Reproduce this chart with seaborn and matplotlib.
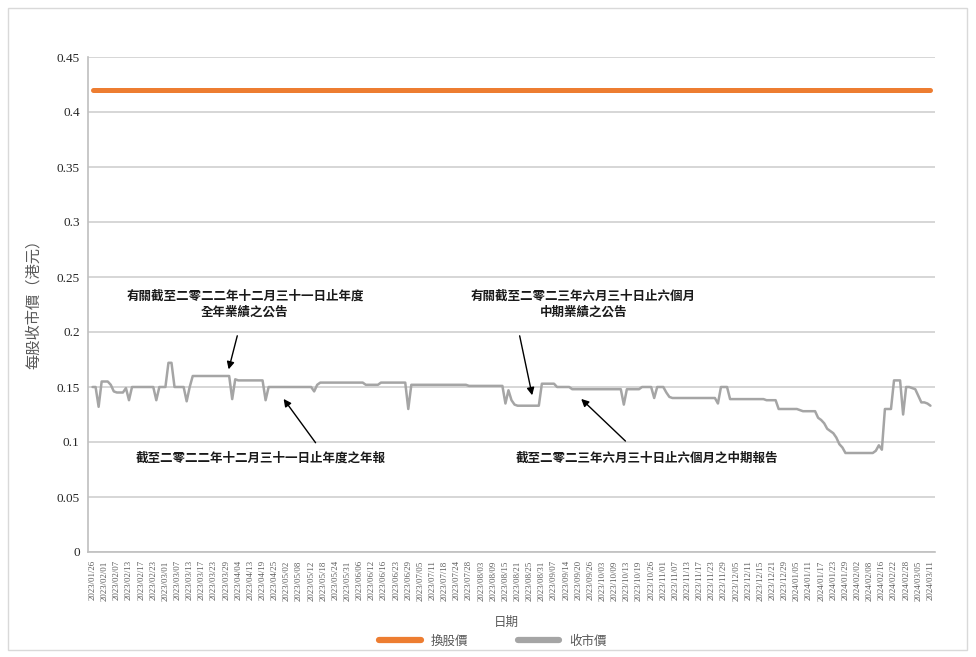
import seaborn as sns
import pandas as pd
import matplotlib.pyplot as plt
from matplotlib.patches import Rectangle
from matplotlib.lines import Line2D

# every 4th trading day is labelled on the category axis
tick_dates = [
    '2023/01/26', '2023/02/01', '2023/02/07', '2023/02/13', '2023/02/17', '2023/02/23',
    '2023/03/01', '2023/03/07', '2023/03/13', '2023/03/17', '2023/03/23', '2023/03/29',
    '2023/04/04', '2023/04/13', '2023/04/19', '2023/04/25', '2023/05/02', '2023/05/08',
    '2023/05/12', '2023/05/18', '2023/05/24', '2023/05/31', '2023/06/06', '2023/06/12',
    '2023/06/16', '2023/06/23', '2023/06/29', '2023/07/05', '2023/07/11', '2023/07/18',
    '2023/07/24', '2023/07/28', '2023/08/03', '2023/08/09', '2023/08/15', '2023/08/21',
    '2023/08/25', '2023/08/31', '2023/09/07', '2023/09/14', '2023/09/20', '2023/09/26',
    '2023/10/03', '2023/10/09', '2023/10/13', '2023/10/19', '2023/10/26', '2023/11/01',
    '2023/11/07', '2023/11/13', '2023/11/17', '2023/11/23', '2023/11/29', '2023/12/05',
    '2023/12/11', '2023/12/15', '2023/12/21', '2023/12/29', '2024/01/05', '2024/01/11',
    '2024/01/17', '2024/01/23', '2024/01/29', '2024/02/02', '2024/02/08', '2024/02/16',
    '2024/02/22', '2024/02/28', '2024/03/05', '2024/03/11',
]

# daily closing price (HK$), one value per trading day
close_price = [
    0.15, 0.15, 0.132, 0.155, 0.155, 0.155, 0.152, 0.146, 0.145, 0.145,
    0.145, 0.149, 0.138, 0.15, 0.15, 0.15, 0.15, 0.15, 0.15, 0.15,
    0.15, 0.138, 0.15, 0.15, 0.15, 0.172, 0.172, 0.15, 0.15, 0.15,
    0.15, 0.137, 0.15, 0.16, 0.16, 0.16, 0.16, 0.16, 0.16, 0.16,
    0.16, 0.16, 0.16, 0.16, 0.16, 0.16, 0.139, 0.157, 0.156, 0.156,
    0.156, 0.156, 0.156, 0.156, 0.156, 0.156, 0.156, 0.138, 0.15, 0.15,
    0.15, 0.15, 0.15, 0.15, 0.15, 0.15, 0.15, 0.15, 0.15, 0.15,
    0.15, 0.15, 0.15, 0.146, 0.152, 0.154, 0.154, 0.154, 0.154, 0.154,
    0.154, 0.154, 0.154, 0.154, 0.154, 0.154, 0.154, 0.154, 0.154, 0.154,
    0.152, 0.152, 0.152, 0.152, 0.152, 0.154, 0.154, 0.154, 0.154, 0.154,
    0.154, 0.154, 0.154, 0.154, 0.130, 0.152, 0.152, 0.152, 0.152, 0.152,
    0.152, 0.152, 0.152, 0.152, 0.152, 0.152, 0.152, 0.152, 0.152, 0.152,
    0.152, 0.152, 0.152, 0.152, 0.151, 0.151, 0.151, 0.151, 0.151, 0.151,
    0.151, 0.151, 0.151, 0.151, 0.151, 0.151, 0.135, 0.147, 0.138, 0.134,
    0.133, 0.133, 0.133, 0.133, 0.133, 0.133, 0.133, 0.133, 0.153, 0.153,
    0.153, 0.153, 0.153, 0.15, 0.15, 0.15, 0.15, 0.15, 0.148, 0.148,
    0.148, 0.148, 0.148, 0.148, 0.148, 0.148, 0.148, 0.148, 0.148, 0.148,
    0.148, 0.148, 0.148, 0.148, 0.148, 0.134, 0.148, 0.148, 0.148, 0.148,
    0.148, 0.15, 0.15, 0.15, 0.15, 0.140, 0.15, 0.15, 0.15, 0.145,
    0.141, 0.140, 0.140, 0.140, 0.140, 0.140, 0.140, 0.140, 0.140, 0.140,
    0.140, 0.140, 0.140, 0.140, 0.140, 0.140, 0.135, 0.15, 0.15, 0.15,
    0.139, 0.139, 0.139, 0.139, 0.139, 0.139, 0.139, 0.139, 0.139, 0.139,
    0.139, 0.139, 0.138, 0.138, 0.138, 0.138, 0.13, 0.13, 0.13, 0.13,
    0.13, 0.13, 0.13, 0.129, 0.128, 0.128, 0.128, 0.128, 0.128, 0.122,
    0.120, 0.117, 0.112, 0.110, 0.108, 0.104, 0.098, 0.095, 0.09, 0.09,
    0.09, 0.09, 0.09, 0.09, 0.09, 0.09, 0.09, 0.09, 0.092, 0.097,
    0.093, 0.13, 0.13, 0.13, 0.156, 0.156, 0.156, 0.125, 0.15, 0.15,
    0.149, 0.148, 0.142, 0.136, 0.136, 0.135, 0.133,
]
conversion_price = 0.42

y_ticks = [0, 0.05, 0.1, 0.15, 0.2, 0.25, 0.3, 0.35, 0.4, 0.45]
y_labels = ['0', '0.05', '0.1', '0.15', '0.2', '0.25', '0.3', '0.35', '0.4', '0.45']

df = pd.DataFrame({'day': range(len(close_price)), 'close': close_price})
df['conversion'] = conversion_price

ORANGE = '#ED7D31'
GREY = '#A5A5A5'
TEXT = '#595959'

sns.set_style('white')
plt.rcParams['font.family'] = ['Noto Sans CJK TC', 'DejaVu Sans']

fig = plt.figure(figsize=(9.76, 6.57), dpi=100)
fig.add_artist(Rectangle((8 / 976, 7 / 657), 959 / 976, 642 / 657, transform=fig.transFigure,
                         fill=False, ec='#D9D9D9', lw=1))
ax = fig.add_axes([88 / 976, 1 - 552 / 657, 847 / 976, 495 / 657])

sns.lineplot(data=df, x='day', y='conversion', color=ORANGE, lw=3.6, ax=ax, label='換股價')
sns.lineplot(data=df, x='day', y='close', color=GREY, lw=1.8, ax=ax, label='收市價')
ax.get_legend().remove()

ax.set_xlim(-1.5, 277.5)
ax.set_ylim(0, 0.45)
ax.set_yticks(y_ticks)
ax.set_yticklabels(y_labels, family='Liberation Serif', fontsize=9.5, color='#262626')
ax.set_xticks(range(0, len(close_price), 4))
ax.set_xticklabels(tick_dates, rotation=90, family='Liberation Serif', fontsize=6.3, color=TEXT)
ax.tick_params(axis='both', length=4, color='#BFBFBF', width=1, pad=2)

ax.yaxis.grid(True, color='#D0D0D0', lw=1.2)
ax.set_axisbelow(True)
for side in ['top', 'right']:
    ax.spines[side].set_visible(False)
for side in ['left', 'bottom']:
    ax.spines[side].set_color('#BFBFBF')
    ax.spines[side].set_linewidth(1.2)

ax.set_xlabel('日期', fontsize=9, color=TEXT)
ax.xaxis.set_label_coords(0.494, -0.129)
ax.set_ylabel('每股收市價（港元）', fontsize=11, color=TEXT)
ax.yaxis.set_label_coords(-0.054, 0.509)

# announcement / report callouts
notes = [
    ('有關截至二零二二年十二月三十一日止年度\n全年業績之公告', (50.2, 0.2255), (47.9, 0.199), (44.6, 0.1636)),
    ('截至二零二二年十二月三十一日止年度之年報', (55.5, 0.0855), (74.0, 0.0973), (62.4, 0.1412)),
    ('有關截至二零二三年六月三十日止六個月\n中期業績之公告', (161.6, 0.2255), (140.5, 0.199), (145.0, 0.140)),
    ('截至二零二三年六月三十日止六個月之中期報告', (182.5, 0.0855), (176.2, 0.0991), (160.3, 0.1409)),
]
for txt, pos, tail, tip in notes:
    ax.text(pos[0], pos[1], txt, ha='center', va='center', fontsize=9, fontweight='bold',
            color='#1a1a1a', linespacing=1.3)
    ax.annotate('', xy=tip, xytext=tail,
                arrowprops=dict(arrowstyle='-|>', color='black', lw=1, mutation_scale=11))

handles = [Line2D([], [], color=ORANGE, lw=4.5, solid_capstyle='round'),
           Line2D([], [], color=GREY, lw=4.5, solid_capstyle='round')]
fig.legend(handles, ['換股價', '收市價'], loc='center', bbox_to_anchor=(493 / 976, 16 / 657),
           ncol=2, frameon=False, fontsize=9, handlelength=3.3, columnspacing=4,
           labelcolor=TEXT)

fig.savefig('out.png', dpi=100)
